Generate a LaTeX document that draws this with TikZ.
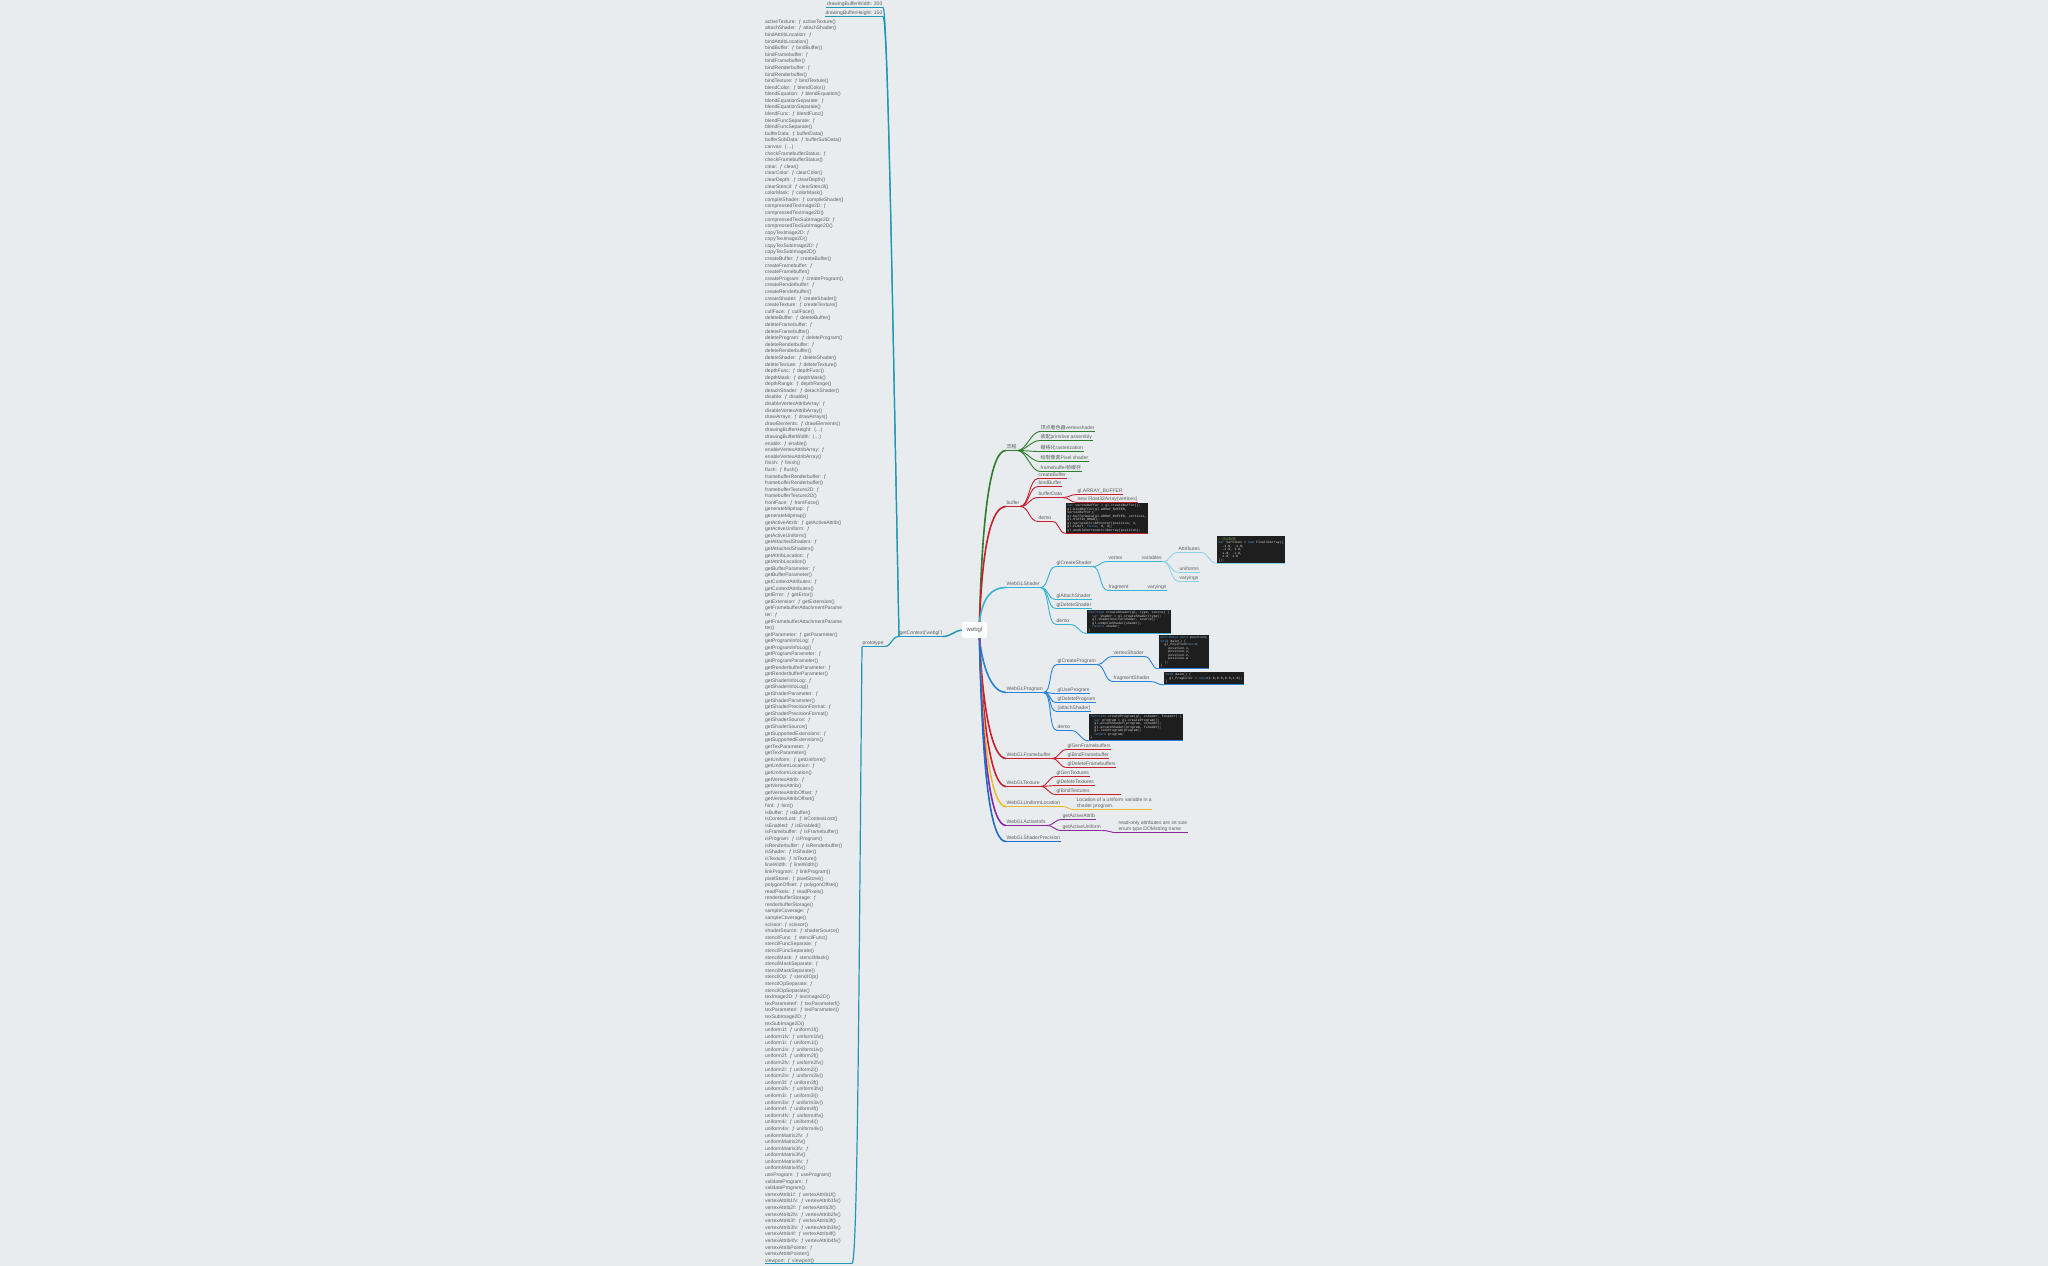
\documentclass[tikz,border=0pt]{standalone}
\usepackage{fontspec}
\newfontfamily\uifont{Liberation Sans}
\newfontfamily\codefont{Liberation Mono}
\newfontfamily\cjk{Noto Sans CJK SC}
\usetikzlibrary{calc}
\definecolor{bg}{RGB}{232,236,239}
\definecolor{txt}{RGB}{95,95,95}
\definecolor{cgreen}{RGB}{45,125,45}
\definecolor{cred}{RGB}{200,30,45}
\definecolor{ccyan}{RGB}{55,180,210}
\definecolor{clcyan}{RGB}{140,210,230}
\definecolor{cblue}{RGB}{40,130,215}
\definecolor{cyel}{RGB}{240,185,50}
\definecolor{cpur}{RGB}{140,40,160}
\definecolor{cteal}{RGB}{35,150,180}
\definecolor{cdblue}{RGB}{30,110,200}
\definecolor{codebg}{RGB}{30,30,30}
\definecolor{codefg}{RGB}{212,212,212}
\definecolor{kwc}{RGB}{86,156,214}
\definecolor{cmc}{RGB}{106,153,85}
\newcommand\kwd[1]{\textcolor{kwc}{#1}}
\newcommand\ci{\hspace*{3.96pt}}
\newcommand\lnk[4]{\draw[#1] (#2) .. controls +(#4,0) and +(-#4,0) .. (#3);}
\tikzset{
  lbl/.style={anchor=base west, yshift=-1.5pt, inner xsep=0.5pt, inner ysep=0pt, text height=3.6pt, text depth=1.8pt, font=\uifont\fontsize{5}{6}\selectfont, text=txt},
  u/.style={append after command={(\tikzlastnode.south west) edge[#1] (\tikzlastnode.south east)}},
  code/.style={anchor=north west, fill=codebg, text=codefg, align=left, inner sep=1.2pt, font=\codefont\fontsize{3.3}{3.5}\selectfont},
  note/.style={anchor=north west, inner xsep=0.5pt, inner ysep=0.8pt, align=left, font=\uifont\fontsize{5}{6}\selectfont, text=txt},
  lgreen/.style={cgreen,line width=0.9pt},
  lred/.style={cred,line width=0.9pt},
  lcyan/.style={ccyan,line width=0.9pt},
  llcyan/.style={clcyan,line width=0.8pt},
  lblue/.style={cblue,line width=0.9pt},
  lyel/.style={cyel,line width=0.9pt},
  lpur/.style={cpur,line width=0.9pt},
  lteal/.style={cteal,line width=1.2pt},
  ldblue/.style={cdblue,line width=0.9pt},
  trunk/.style={line width=1.6pt},
}
\begin{document}
\begin{tikzpicture}[x=1pt,y=-1pt]
\fill[bg] (0,0) rectangle (2048,1266);
\useasboundingbox (0,0) rectangle (2048,1266);

% root
\node[fill=white, rounded corners=2pt, minimum width=25pt, minimum height=16pt, inner sep=0pt, font=\uifont\fontsize{6}{7}\selectfont, text=txt] (root) at (974.5,630) {webgl};
\coordinate (rN) at ($(root.north)+(5,0)$);
\coordinate (rS) at ($(root.south)+(5,0)$);

% ---------- left side ----------
\node[lbl,u={lteal}] (gc) at (899,633) {getContext('webgl')};
\draw[lteal,line width=1.5pt] (gc.south east) .. controls +(8,0) and +(-6,0) .. (root.west);
\node[lbl,anchor=base east,u={lteal,line width=0.9pt}] (dbw) at (883,4) {drawingBufferWidth: 300};
\node[lbl,anchor=base east,u={lteal,line width=0.9pt}] (dbh) at (883,13) {drawingBufferHeight: 150};
\node[lbl,u={lteal,line width=0.9pt}] (proto) at (862,643) {prototype};
\draw[lteal] (gc.south west) .. controls +(-6,-300) and +(5,0) .. (dbw.south east);
\draw[lteal] (gc.south west) .. controls +(-6,-300) and +(5,0) .. (dbh.south east);
\draw[lteal] (gc.south west) .. controls +(-8,0) and +(8,0) .. (proto.south east);

\node[anchor=south west, inner sep=0pt, text width=100pt, align=left, font=\uifont\fontsize{5}{6.59}\selectfont, text=txt] (list) at (765,1263.5) {%
activeTexture: ƒ activeTexture()\\
attachShader: ƒ attachShader()\\
bindAttribLocation: ƒ\\
bindAttribLocation()\\
bindBuffer: ƒ bindBuffer()\\
bindFramebuffer: ƒ\\
bindFramebuffer()\\
bindRenderbuffer: ƒ\\
bindRenderbuffer()\\
bindTexture: ƒ bindTexture()\\
blendColor: ƒ blendColor()\\
blendEquation: ƒ blendEquation()\\
blendEquationSeparate: ƒ\\
blendEquationSeparate()\\
blendFunc: ƒ blendFunc()\\
blendFuncSeparate: ƒ\\
blendFuncSeparate()\\
bufferData: ƒ bufferData()\\
bufferSubData: ƒ bufferSubData()\\
canvas: \{…\}\\
checkFramebufferStatus: ƒ\\
checkFramebufferStatus()\\
clear: ƒ clear()\\
clearColor: ƒ clearColor()\\
clearDepth: ƒ clearDepth()\\
clearStencil: ƒ clearStencil()\\
colorMask: ƒ colorMask()\\
compileShader: ƒ compileShader()\\
compressedTexImage2D: ƒ\\
compressedTexImage2D()\\
compressedTexSubImage2D: ƒ\\
compressedTexSubImage2D()\\
copyTexImage2D: ƒ\\
copyTexImage2D()\\
copyTexSubImage2D: ƒ\\
copyTexSubImage2D()\\
createBuffer: ƒ createBuffer()\\
createFramebuffer: ƒ\\
createFramebuffer()\\
createProgram: ƒ createProgram()\\
createRenderbuffer: ƒ\\
createRenderbuffer()\\
createShader: ƒ createShader()\\
createTexture: ƒ createTexture()\\
cullFace: ƒ cullFace()\\
deleteBuffer: ƒ deleteBuffer()\\
deleteFramebuffer: ƒ\\
deleteFramebuffer()\\
deleteProgram: ƒ deleteProgram()\\
deleteRenderbuffer: ƒ\\
deleteRenderbuffer()\\
deleteShader: ƒ deleteShader()\\
deleteTexture: ƒ deleteTexture()\\
depthFunc: ƒ depthFunc()\\
depthMask: ƒ depthMask()\\
depthRange: ƒ depthRange()\\
detachShader: ƒ detachShader()\\
disable: ƒ disable()\\
disableVertexAttribArray: ƒ\\
disableVertexAttribArray()\\
drawArrays: ƒ drawArrays()\\
drawElements: ƒ drawElements()\\
drawingBufferHeight: (…)\\
drawingBufferWidth: (…)\\
enable: ƒ enable()\\
enableVertexAttribArray: ƒ\\
enableVertexAttribArray()\\
finish: ƒ finish()\\
flush: ƒ flush()\\
framebufferRenderbuffer: ƒ\\
framebufferRenderbuffer()\\
framebufferTexture2D: ƒ\\
framebufferTexture2D()\\
frontFace: ƒ frontFace()\\
generateMipmap: ƒ\\
generateMipmap()\\
getActiveAttrib: ƒ getActiveAttrib()\\
getActiveUniform: ƒ\\
getActiveUniform()\\
getAttachedShaders: ƒ\\
getAttachedShaders()\\
getAttribLocation: ƒ\\
getAttribLocation()\\
getBufferParameter: ƒ\\
getBufferParameter()\\
getContextAttributes: ƒ\\
getContextAttributes()\\
getError: ƒ getError()\\
getExtension: ƒ getExtension()\\
getFramebufferAttachmentParame\\
ter: ƒ\\
getFramebufferAttachmentParame\\
ter()\\
getParameter: ƒ getParameter()\\
getProgramInfoLog: ƒ\\
getProgramInfoLog()\\
getProgramParameter: ƒ\\
getProgramParameter()\\
getRenderbufferParameter: ƒ\\
getRenderbufferParameter()\\
getShaderInfoLog: ƒ\\
getShaderInfoLog()\\
getShaderParameter: ƒ\\
getShaderParameter()\\
getShaderPrecisionFormat: ƒ\\
getShaderPrecisionFormat()\\
getShaderSource: ƒ\\
getShaderSource()\\
getSupportedExtensions: ƒ\\
getSupportedExtensions()\\
getTexParameter: ƒ\\
getTexParameter()\\
getUniform: ƒ getUniform()\\
getUniformLocation: ƒ\\
getUniformLocation()\\
getVertexAttrib: ƒ\\
getVertexAttrib()\\
getVertexAttribOffset: ƒ\\
getVertexAttribOffset()\\
hint: ƒ hint()\\
isBuffer: ƒ isBuffer()\\
isContextLost: ƒ isContextLost()\\
isEnabled: ƒ isEnabled()\\
isFramebuffer: ƒ isFramebuffer()\\
isProgram: ƒ isProgram()\\
isRenderbuffer: ƒ isRenderbuffer()\\
isShader: ƒ isShader()\\
isTexture: ƒ isTexture()\\
lineWidth: ƒ lineWidth()\\
linkProgram: ƒ linkProgram()\\
pixelStorei: ƒ pixelStorei()\\
polygonOffset: ƒ polygonOffset()\\
readPixels: ƒ readPixels()\\
renderbufferStorage: ƒ\\
renderbufferStorage()\\
sampleCoverage: ƒ\\
sampleCoverage()\\
scissor: ƒ scissor()\\
shaderSource: ƒ shaderSource()\\
stencilFunc: ƒ stencilFunc()\\
stencilFuncSeparate: ƒ\\
stencilFuncSeparate()\\
stencilMask: ƒ stencilMask()\\
stencilMaskSeparate: ƒ\\
stencilMaskSeparate()\\
stencilOp: ƒ stencilOp()\\
stencilOpSeparate: ƒ\\
stencilOpSeparate()\\
texImage2D: ƒ texImage2D()\\
texParameterf: ƒ texParameterf()\\
texParameteri: ƒ texParameteri()\\
texSubImage2D: ƒ\\
texSubImage2D()\\
uniform1f: ƒ uniform1f()\\
uniform1fv: ƒ uniform1fv()\\
uniform1i: ƒ uniform1i()\\
uniform1iv: ƒ uniform1iv()\\
uniform2f: ƒ uniform2f()\\
uniform2fv: ƒ uniform2fv()\\
uniform2i: ƒ uniform2i()\\
uniform2iv: ƒ uniform2iv()\\
uniform3f: ƒ uniform3f()\\
uniform3fv: ƒ uniform3fv()\\
uniform3i: ƒ uniform3i()\\
uniform3iv: ƒ uniform3iv()\\
uniform4f: ƒ uniform4f()\\
uniform4fv: ƒ uniform4fv()\\
uniform4i: ƒ uniform4i()\\
uniform4iv: ƒ uniform4iv()\\
uniformMatrix2fv: ƒ\\
uniformMatrix2fv()\\
uniformMatrix3fv: ƒ\\
uniformMatrix3fv()\\
uniformMatrix4fv: ƒ\\
uniformMatrix4fv()\\
useProgram: ƒ useProgram()\\
validateProgram: ƒ\\
validateProgram()\\
vertexAttrib1f: ƒ vertexAttrib1f()\\
vertexAttrib1fv: ƒ vertexAttrib1fv()\\
vertexAttrib2f: ƒ vertexAttrib2f()\\
vertexAttrib2fv: ƒ vertexAttrib2fv()\\
vertexAttrib3f: ƒ vertexAttrib3f()\\
vertexAttrib3fv: ƒ vertexAttrib3fv()\\
vertexAttrib4f: ƒ vertexAttrib4f()\\
vertexAttrib4fv: ƒ vertexAttrib4fv()\\
vertexAttribPointer: ƒ\\
vertexAttribPointer()\\
viewport: ƒ viewport()};
\coordinate (listE) at (852,1263.5);
\draw[lteal,line width=0.9pt] (list.south west) -- (listE);
\draw[lteal] (proto.south west) .. controls +(-3,300) and +(6,0) .. (listE);

% ---------- 流程 ----------
\node[lbl,u={lgreen,line width=1.2pt}] (flow) at (1006,447) {\cjk 流程};
\draw[cgreen,trunk] (rN) .. controls +(3,-120) and +(-14,0) .. (flow.south west);
\node[lbl,u={lgreen,line width=.8pt}] (f1) at (1040,428) {{\cjk 顶点着色器}vertexshader};
\node[lbl,u={lgreen,line width=.8pt}] (f2) at (1040,437) {{\cjk 装配}primitive assembly};
\node[lbl,u={lgreen,line width=.8pt}] (f3) at (1040,448) {{\cjk 栅格化}rasterization};
\node[lbl,u={lgreen,line width=.8pt}] (f4) at (1040,458) {{\cjk 绘制像素}Pixel shader};
\node[lbl,u={lgreen,line width=.8pt}] (f5) at (1040,468) {framebuffer{\cjk 帧缓存}};
\foreach \c in {f1,f2,f3,f4,f5}{\lnk{lgreen}{flow.south east}{\c.south west}{9}}

% ---------- buffer ----------
\node[lbl,u={lred,line width=1.2pt}] (buf) at (1006,503) {buffer};
\draw[cred,trunk] (rN) .. controls +(3,-80) and +(-14,0) .. (buf.south west);
\node[lbl,u={lred,line width=.8pt}] (cbuf) at (1038,475) {createBuffer};
\node[lbl,u={lred,line width=.8pt}] (bbuf) at (1038,483) {bindBuffer};
\node[lbl,u={lred,line width=.8pt}] (dbuf) at (1038,494) {bufferData};
\node[lbl,u={lred,line width=.8pt}] (bdemo) at (1038,518) {demo};
\foreach \c in {cbuf,bbuf,dbuf,bdemo}{\lnk{lred}{buf.south east}{\c.south west}{9}}
\node[lbl,u={lred,line width=.7pt}] (ab) at (1077,491) {gl.ARRAY\_BUFFER};
\node[lbl,u={lred,line width=.7pt}] (nf) at (1077,499) {new Float32Array(vertices)};
\lnk{lred}{dbuf.south east}{ab.south west}{7}
\lnk{lred}{dbuf.south east}{nf.south west}{7}
\node[code,u={lred,line width=.8pt}] (bcode) at (1066,503) {%
\kwd{var} vertexBuffer = gl.createBuffer();\\
gl.bindBuffer(gl.ARRAY\_BUFFER,\\
vertexBuffer);\\
gl.bufferData(gl.ARRAY\_BUFFER, vertices,\\
gl.STATIC\_DRAW);\\
gl.vertexAttribPointer(position, 3,\\
gl.FLOAT, \kwd{false}, 0, 0);\\
gl.enableVertexAttribArray(position);};
\lnk{lred}{bdemo.south east}{bcode.south west}{8}

% ---------- WebGLShader ----------
\node[lbl,u={lcyan,line width=1.2pt}] (shd) at (1006,584) {WebGLShader};
\draw[ccyan,trunk] (rN) .. controls +(3,-25) and +(-14,0) .. (shd.south west);
\node[lbl,u={lcyan,line width=.8pt}] (gcs) at (1056,563) {glCreateShader};
\node[lbl,u={lcyan,line width=.8pt}] (gas) at (1056,596) {glAttachShader};
\node[lbl,u={lcyan,line width=.8pt}] (gds) at (1056,605) {glDeleteShader};
\node[lbl,u={lcyan,line width=.8pt}] (sdemo) at (1056,621) {demo};
\foreach \c in {gcs,gas,gds,sdemo}{\lnk{lcyan}{shd.south east}{\c.south west}{9}}
\node[lbl,u={lcyan,line width=.8pt}] (vtx) at (1108,558) {vertex};
\node[lbl,u={lcyan,line width=.8pt}] (frag) at (1108,587) {fragment};
\lnk{lcyan}{gcs.south east}{vtx.south west}{9}
\lnk{lcyan}{gcs.south east}{frag.south west}{9}
\node[lbl,u={lcyan,line width=.8pt}] (vars) at (1141,558) {variables};
\node[lbl,u={lcyan,line width=.8pt}] (fvary) at (1147,587) {varyings};
\lnk{lcyan}{vtx.south east}{vars.south west}{8}
\lnk{lcyan}{frag.south east}{fvary.south west}{8}
\node[lbl,u={llcyan}] (attr) at (1178,549) {Attributes};
\node[lbl,u={llcyan}] (unif) at (1179,569) {uniforms};
\node[lbl,u={llcyan}] (vary) at (1179,578) {varyings};
\foreach \c in {attr,unif,vary}{\lnk{llcyan}{vars.south east}{\c.south west}{9}}
\node[code,u={llcyan}] (acode) at (1217,536) {%
\textcolor{cmc}{//{\cjk 顶点数据}}\\
\kwd{var} vertices = \kwd{new} Float32Array([\\
\ci -1.0, -1.0,\\
\ci -1.0, 1.0,\\
\ci 1.0, -1.0,\\
\ci 1.0, 1.0\\
]);};
\lnk{llcyan}{attr.south east}{acode.south west}{9}
\node[code,u={lcyan,line width=.8pt}] (scode) at (1087,610) {%
\kwd{function} createShader(gl, type, source) \{\\
\ci\kwd{var} shader = gl.createShader(type);\\
\ci gl.shaderSource(shader, source);\\
\ci gl.compileShader(shader);\\
\ci\kwd{return} shader;\\
\}};
\lnk{lcyan}{sdemo.south east}{scode.south west}{9}

% ---------- WebGLProgram ----------
\node[lbl,u={lblue,line width=1.2pt}] (prg) at (1006,689) {WebGLProgram};
\draw[cblue,trunk] (rS) .. controls +(3,30) and +(-14,0) .. (prg.south west);
\node[lbl,u={lblue,line width=.8pt}] (gcp) at (1057,661) {glCreateProgram};
\node[lbl,u={lblue,line width=.8pt}] (gup) at (1057,690) {glUseProgram};
\node[lbl,u={lblue,line width=.8pt}] (gdp) at (1057,699) {glDeleteProgram};
\node[lbl,u={lblue,line width=.8pt}] (ats) at (1057,708) {[attachShader]};
\node[lbl,u={lblue,line width=.8pt}] (pdemo) at (1057,727) {demo};
\foreach \c in {gcp,gup,gdp,ats,pdemo}{\lnk{lblue}{prg.south east}{\c.south west}{9}}
\node[lbl,u={lblue,line width=.8pt}] (vs) at (1113,653) {vertexShader};
\node[lbl,u={lblue,line width=.8pt}] (fs) at (1113,678) {fragmentShader};
\lnk{lblue}{gcp.south east}{vs.south west}{9}
\lnk{lblue}{gcp.south east}{fs.south west}{9}
\node[code,u={lblue,line width=.8pt}] (vscode) at (1159,635) {%
\kwd{attribute} \kwd{vec4} position;\\
\kwd{void} main() \{\\
\ci gl\_Position=\kwd{vec4}(\\
\ci\ci position.x,\\
\ci\ci position.y,\\
\ci\ci position.z,\\
\ci\ci position.w\\
\ci );\\
\}};
\lnk{lblue}{vs.south east}{vscode.south west}{9}
\node[code,u={lblue,line width=.8pt}] (fscode) at (1164,672) {%
\kwd{void} main() \{\\
\ci gl\_FragColor = \kwd{vec4}(1.0,0.0,0.0,1.0);\\
\}};
\lnk{lblue}{fs.south east}{fscode.south west}{7}
\node[code,u={lblue,line width=.8pt}] (pcode) at (1089,714) {%
\kwd{function} createProgram(gl, vshader, fshader) \{\\
\ci\kwd{var} program = gl.createProgram();\\
\ci gl.attachShader(program, vshader);\\
\ci gl.attachShader(program, fshader);\\
\ci gl.linkProgram(program);\\
\ci\kwd{return} program;\\
\}};
\lnk{lblue}{pdemo.south east}{pcode.south west}{9}

% ---------- WebGLFramebuffer ----------
\node[lbl,u={lred,line width=1.2pt}] (fb) at (1006,755) {WebGLFramebuffer};
\draw[cred,trunk] (rS) .. controls +(3,70) and +(-14,0) .. (fb.south west);
\node[lbl,u={lred,line width=.8pt}] (ggf) at (1067,746) {glGenFramebuffers};
\node[lbl,u={lred,line width=.8pt}] (gbf) at (1067,755) {glBindFramebuffer};
\node[lbl,u={lred,line width=.8pt}] (gdf) at (1067,764) {glDeleteFramebuffers};
\foreach \c in {ggf,gbf,gdf}{\lnk{lred}{fb.south east}{\c.south west}{8}}

% ---------- WebGLTexture ----------
\node[lbl,u={lred,line width=1.2pt}] (tex) at (1006,783) {WebGLTexture};
\draw[cred,trunk] (rS) .. controls +(3,90) and +(-14,0) .. (tex.south west);
\node[lbl,u={lred,line width=.8pt}] (ggt) at (1056,773) {glGenTextures};
\node[lbl,u={lred,line width=.8pt}] (gdt) at (1056,782) {glDeleteTextures};
\node[lbl,u={lred,line width=.8pt}] (gbt) at (1056,791) {glBindTextures};
\draw[cred,line width=.8pt] (gbt.south east) -- +(31,0);
\foreach \c in {ggt,gdt,gbt}{\lnk{lred}{tex.south east}{\c.south west}{8}}

% ---------- WebGLUniformLocation ----------
\node[lbl,u={lyel,line width=1.2pt}] (uloc) at (1006,803) {WebGLUniformLocation};
\draw[cyel,trunk] (rS) .. controls +(3,110) and +(-14,0) .. (uloc.south west);
\node[note,u={lyel,line width=.8pt}] (ulnote) at (1076,797) {Location of a uniform variable in a\\shader program.};
\lnk{lyel}{uloc.south east}{ulnote.south west}{8}

% ---------- WebGLActiveInfo ----------
\node[lbl,u={lpur,line width=1.2pt}] (ainfo) at (1006,822) {WebGLActiveInfo};
\draw[cpur,trunk] (rS) .. controls +(3,130) and +(-14,0) .. (ainfo.south west);
\node[lbl,u={lpur,line width=.8pt}] (gaa) at (1062,816) {getActiveAttrib};
\node[lbl,u={lpur,line width=.8pt}] (gau) at (1062,827) {getActiveUniform};
\lnk{lpur}{ainfo.south east}{gaa.south west}{8}
\lnk{lpur}{ainfo.south east}{gau.south west}{8}
\node[note,u={lpur,line width=.8pt}] (ainote) at (1118,820) {read-only attributes are int size\\enum type DOMstring name};
\lnk{lpur}{gau.south east}{ainote.south west}{9}

% ---------- WebGLShaderPrecision ----------
\node[lbl,u={ldblue,line width=1.2pt}] (sprec) at (1006,838) {WebGLShaderPrecision};
\draw[cdblue,trunk] (rS) .. controls +(3,150) and +(-14,0) .. (sprec.south west);
\end{tikzpicture}
\end{document}
